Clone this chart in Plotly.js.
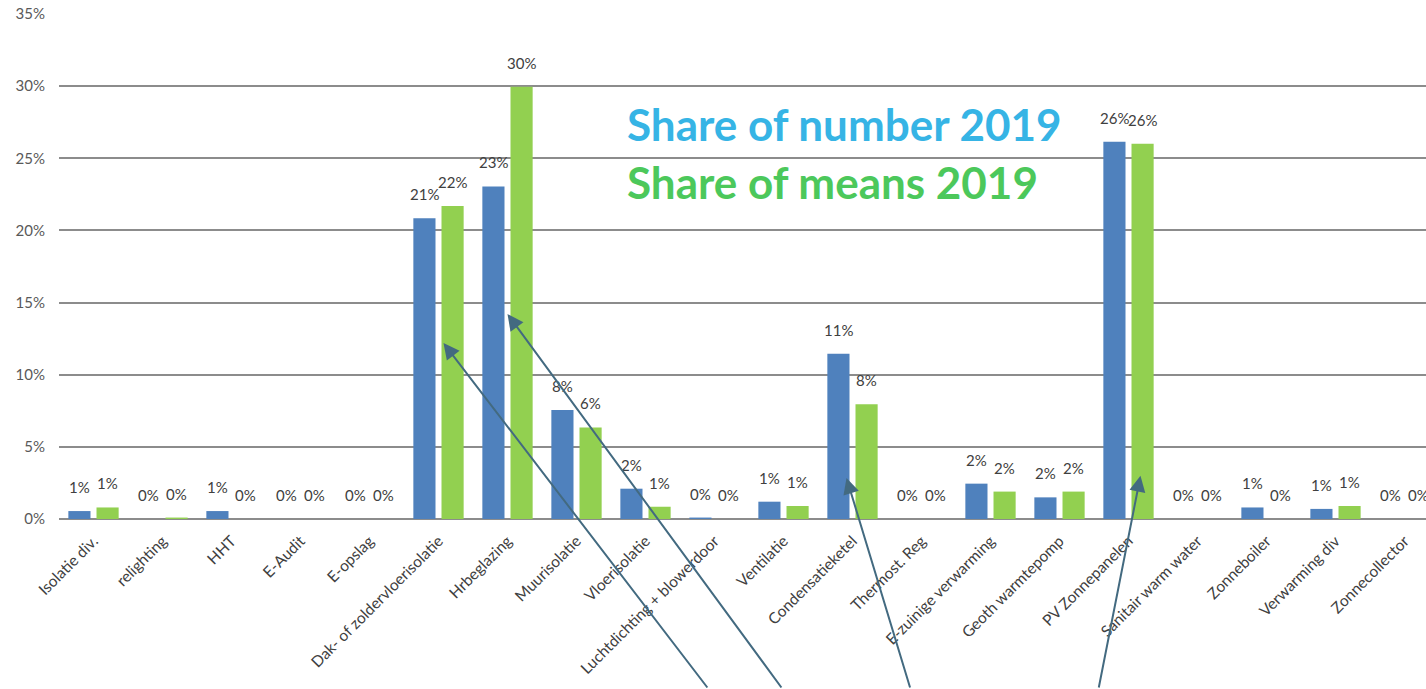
<!DOCTYPE html>
<html>
<head>
<meta charset="utf-8">
<script src="https://cdn.plot.ly/plotly-3.0.1.min.js"></script>
<style>
  html, body { margin: 0; padding: 0; overflow: hidden; background: #ffffff; }
  #chart { width: 1460px; height: 689px; }
</style>
</head>
<body>
<div id="chart"></div>
<script>
// ---- data ----
const categories = [
  "Isolatie div.", "relighting", "HHT", "E-Audit", "E-opslag",
  "Dak- of zoldervloerisolatie", "Hrbeglazing", "Muurisolatie", "Vloerisolatie",
  "Luchtdichting + blowerdoor", "Ventilatie", "Condensatieketel", "Thermost. Reg",
  "E-zuinige verwarming", "Geoth warmtepomp", "PV Zonnepanelen", "Sanitair warm water",
  "Zonneboiler", "Verwarming div", "Zonnecollector"
];
const shareNumber2019 = [0.55, 0, 0.55, 0, 0, 20.85, 23.05, 7.55, 2.1, 0.1, 1.2, 11.45, 0, 2.45, 1.5, 26.15, 0, 0.8, 0.7, 0];
const shareMeans2019  = [0.8, 0.1, 0, 0, 0, 21.7, 29.95, 6.35, 0.85, 0, 0.9, 7.95, 0, 1.9, 1.9, 26.0, 0, 0, 0.9, 0];
const yTickVals = [0, 5, 10, 15, 20, 25, 30, 35];
const yTickText = ["0%", "5%", "10%", "15%", "20%", "25%", "30%", "35%"];
const seriesNames = ["Share of number 2019", "Share of means 2019"];
// arrows: target category, target value
const arrowTargets = ["Dak- of zoldervloerisolatie", "Hrbeglazing", "Condensatieketel", "PV Zonnepanelen"];
const arrowValues = [12.2, 14.2, 2.85, 3.0];

const FONT = "Lato, 'Open Sans', 'DejaVu Sans', sans-serif";
const BLUE = "#4F81BD", GREEN = "#92D050";

const traces = [
  { type: "bar", name: seriesNames[0], x: categories, y: shareNumber2019,
    marker: { color: BLUE, line: { width: 0 } }, hoverinfo: "x+y" },
  { type: "bar", name: seriesNames[1], x: categories, y: shareMeans2019,
    marker: { color: GREEN, line: { width: 0 } }, hoverinfo: "x+y" }
];

const annotations = [];
const offs = [-14, 14];
[shareNumber2019, shareMeans2019].forEach((vals, s) => {
  vals.forEach((v, i) => {
    annotations.push({
      x: categories[i], y: v, xref: "x", yref: "y",
      text: Math.round(v) + "%", showarrow: false,
      xshift: offs[s], yshift: 24, yanchor: "middle", xanchor: "center",
      font: { family: FONT, size: 15, color: "#404040" }
    });
  });
});

const arrowOffsets = [
  { xs: 5, ax: 265, ay: 360 },
  { xs: 0, ax: 275, ay: 385 },
  { xs: -6, ax: 64, ay: 220 },
  { xs: 12, ax: -42, ay: 222 }
];
arrowTargets.forEach((c, k) => {
  annotations.push({
    x: c, y: arrowValues[k], xref: "x", yref: "y", text: "",
    showarrow: true, arrowhead: 2, arrowsize: 1.6, arrowwidth: 2, arrowcolor: "#436A80",
    xshift: arrowOffsets[k].xs, ax: arrowOffsets[k].ax, ay: arrowOffsets[k].ay
  });
});

annotations.push({
  xref: "paper", yref: "paper", x: 0.410, y: 0.782, xanchor: "left", yanchor: "middle",
  text: "<b>" + seriesNames[0] + "</b>", showarrow: false,
  font: { family: FONT, size: 44, color: "#36B4E5" }
});
annotations.push({
  xref: "paper", yref: "paper", x: 0.410, y: 0.667, xanchor: "left", yanchor: "middle",
  text: "<b>" + seriesNames[1] + "</b>", showarrow: false,
  font: { family: FONT, size: 44, color: "#4CC85B" }
});

const layout = {
  width: 1460, height: 689,
  margin: { l: 59, r: 21, t: 14, b: 170 },
  paper_bgcolor: "#ffffff", plot_bgcolor: "#ffffff",
  showlegend: false,
  barmode: "group", bargap: 0.184, bargroupgap: 0.213,
  font: { family: FONT, color: "#404040" },
  xaxis: {
    type: "category", tickangle: -45, showgrid: false, zeroline: false,
    showline: false, ticks: "", ticklabelstandoff: 9,
    tickfont: { family: FONT, size: 15.5, color: "#404040" }
  },
  yaxis: {
    range: [0, 35], tickvals: yTickVals, ticktext: yTickText,
    showgrid: true, gridcolor: "#8c8c8c", gridwidth: 2,
    zeroline: true, zerolinecolor: "#8c8c8c", zerolinewidth: 2,
    showline: false, ticks: "", ticklabelstandoff: 13,
    tickfont: { family: FONT, size: 15, color: "#595959" }
  },
  annotations: annotations
};

Plotly.newPlot("chart", traces, layout, { displayModeBar: false, staticPlot: true });
</script>
</body>
</html>
